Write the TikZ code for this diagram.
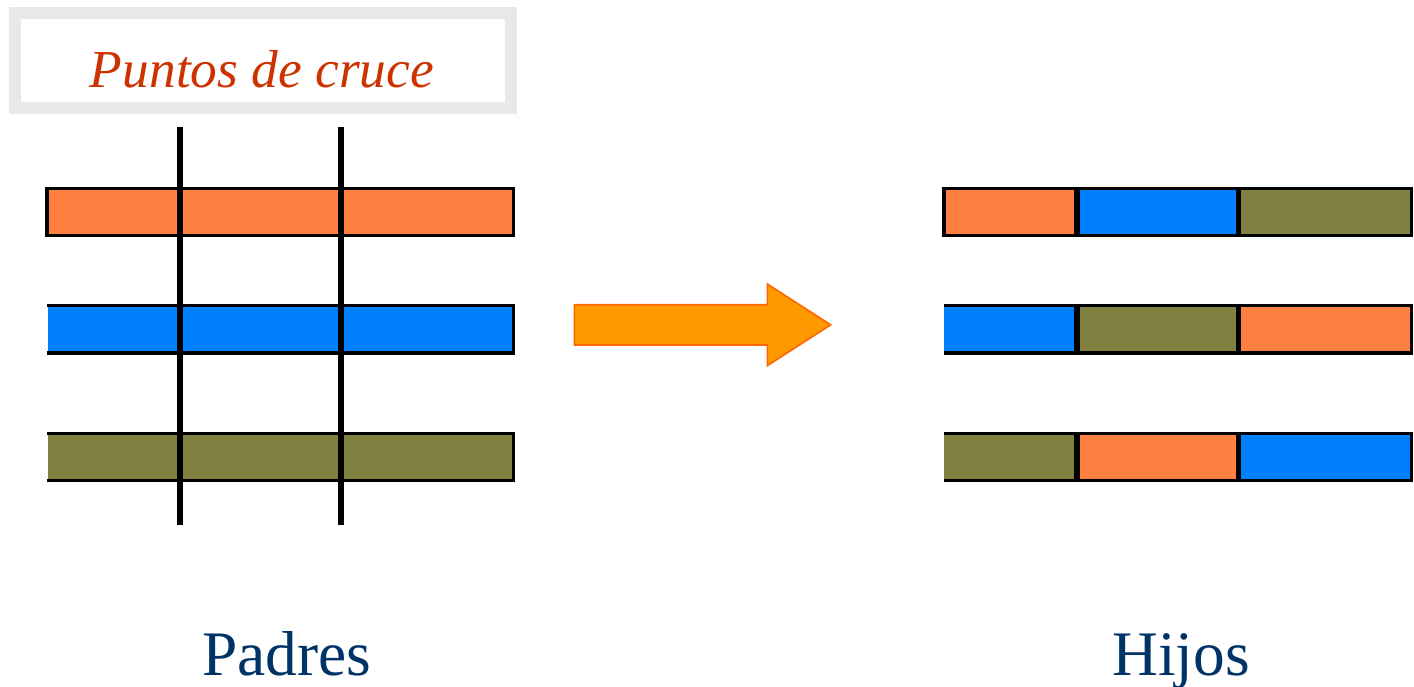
\documentclass[tikz,border=0pt]{standalone}
\usepackage{fontspec}
\setmainfont{Liberation Serif}
\usetikzlibrary{positioning}
\definecolor{orangebar}{RGB}{255,128,64}
\definecolor{bluebar}{RGB}{0,128,255}
\definecolor{olivebar}{RGB}{128,128,64}
\definecolor{framegray}{RGB}{232,232,232}
\definecolor{titlecolor}{RGB}{204,51,0}
\definecolor{labelcolor}{RGB}{0,51,102}
\definecolor{arrowfill}{RGB}{255,153,0}
\definecolor{arrowline}{RGB}{255,102,0}

\begin{document}
\begin{tikzpicture}[
    x=0.5pt, y=-0.5pt,
    bar/.style={rectangle, inner sep=0pt, minimum width=232.9pt, minimum height=23.25pt},
    seg/.style={rectangle, inner sep=0pt, minimum height=23.25pt},
    outline/.style={black, line width=1.75pt},
    cut/.style={black, line width=2.75pt},
    divider/.style={black, line width=2.75pt},
    titlebox/.style={draw=framegray, line width=6pt, minimum width=248pt, minimum height=47.5pt, inner sep=0pt},
    titletext/.style={text=titlecolor, font=\fontsize{26.7}{30}\selectfont\itshape},
    grouplabel/.style={text=labelcolor, font=\fontsize{31.7}{34}\selectfont},
    bigarrow/.style={fill=arrowfill, draw=arrowline, line width=0.8pt}
]
    \useasboundingbox (0,0) rectangle (1414,686);

    % Title box
    \node[titlebox] (frame) at (263,60.5) {};
    \node[titletext, anchor=base] (title) at (262,87) {Puntos de cruce};

    % Parent bars
    \node[bar, fill=orangebar] (p1) at (280.4,212) {};
    \node[bar, fill=bluebar] (p2) at (280.4,329.3) {};
    \node[bar, fill=olivebar] (p3) at (280.4,457) {};

    \draw[outline] (p1.north west) rectangle (p1.south east);
    \draw[outline] (p2.north west) -- (p2.north east) -- (p2.south east) -- (p2.south west);
    \draw[outline] (p3.north west) -- (p3.north east) -- (p3.south east) -- (p3.south west);

    % Crossover points
    \coordinate (cut1top) at (180,127);
    \coordinate (cut1bot) at (180,525);
    \coordinate (cut2top) at (341,127);
    \coordinate (cut2bot) at (341,525);
    \draw[cut] (cut1top) -- (cut1bot);
    \draw[cut] (cut2top) -- (cut2bot);

    % Arrow
    \draw[bigarrow] (574.3,304.7) -- (767.3,304.7) -- (767.3,284) -- (830.7,324.85)
        -- (767.3,365.7) -- (767.3,345) -- (574.3,345) -- cycle;

    % Child bars
    \foreach \row/\y/\ca/\cb/\cc in {1/212/orangebar/bluebar/olivebar,
                                     2/329.3/bluebar/olivebar/orangebar,
                                     3/457/olivebar/orangebar/bluebar} {
        \node[seg, fill=\ca, minimum width=66.1pt, anchor=west] (h\row1) at (943.8,\y) {};
        \node[seg, fill=\cb, minimum width=80.5pt, right=0pt of h\row1] (h\row2) {};
        \node[seg, fill=\cc, minimum width=86.15pt, right=0pt of h\row2] (h\row3) {};
    }

    \draw[outline] (h11.north west) rectangle (h13.south east);
    \draw[outline] (h21.north west) -- (h23.north east) -- (h23.south east) -- (h21.south west);
    \draw[outline] (h31.north west) -- (h33.north east) -- (h33.south east) -- (h31.south west);

    \foreach \row in {1,2,3} {
        \draw[divider] (h\row1.north east) -- (h\row1.south east);
        \draw[divider] (h\row2.north east) -- (h\row2.south east);
    }

    % Labels
    \node[grouplabel, anchor=base] (padres) at (287,675) {Padres};
    \node[grouplabel, anchor=base] (hijos) at (1181,675) {Hijos};
\end{tikzpicture}
\end{document}
